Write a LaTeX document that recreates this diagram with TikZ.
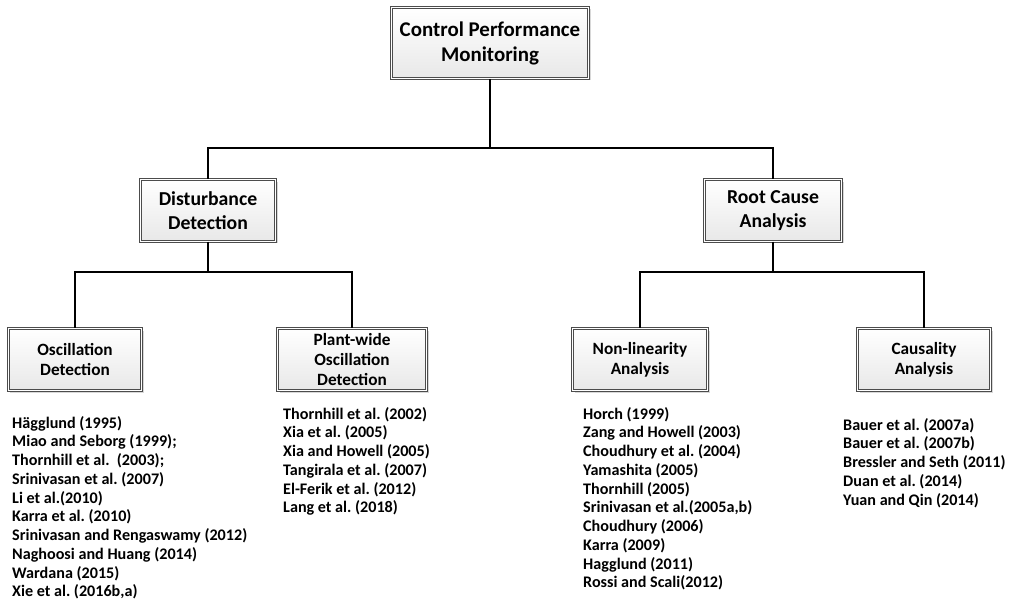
\documentclass[tikz,border=0pt]{standalone}
\usepackage{fontspec}
\setmainfont{Carlito}
\frenchspacing
\usetikzlibrary{shadows}
\tikzset{
	block/.style = {draw=black!70, line width=1bp, double=white, double distance=1bp,
		rectangle, top color=white, bottom color=black!9, align=center, inner sep=0pt,
		drop shadow={shadow xshift=2bp, shadow yshift=-2bp, fill=black!30},
		font=\bfseries\fontsize{17.3}{20}\selectfont},
	refs/.style  = {anchor=north west, align=left, inner sep=0pt,
		font=\bfseries\fontsize{16.2}{18.8}\selectfont},
	link/.style  = {line width=2.8bp}
}

\begin{document}
\begin{tikzpicture}[x=1bp, y=-1bp]
\useasboundingbox (0,0) rectangle (1011,608);
\draw
% Boxes of the tree
node at (490,43)[block, minimum width=197bp, minimum height=71bp,
	font=\bfseries\fontsize{21}{25}\selectfont] (cpm) {Control Performance\\Monitoring}
node at (208,210.5)[block, minimum width=135bp, minimum height=61bp,
	font=\bfseries\fontsize{19.8}{24}\selectfont] (dd) {Disturbance\\Detection}
node at (773,210.5)[block, minimum width=137bp, minimum height=61bp,
	font=\bfseries\fontsize{19.8}{24}\selectfont] (rca) {Root Cause\\Analysis}
node at (75,359.5)[block, minimum width=133bp, minimum height=62bp] (od) {Oscillation\\Detection}
node at (352,359.5)[block, minimum width=149bp, minimum height=62bp] (pwod) {Plant-wide\\Oscillation\\Detection}
node at (640,359.5)[block, minimum width=135bp, minimum height=62bp] (nla) {Non-linearity\\Analysis}
node at (924,359.5)[block, minimum width=133bp, minimum height=62bp] (ca) {Causality\\Analysis};

% Levels of the horizontal bars
\coordinate (bar1) at (0,148);
\coordinate (bar2) at (0,272);

\draw[link] (cpm.south) -- (cpm.south |- bar1) -| (dd.north);
\draw[link] (cpm.south |- bar1) -| (rca.north);
\draw[link] (dd.south) -- (dd.south |- bar2) -| (od.north);
\draw[link] (dd.south |- bar2) -| (pwod.north);
\draw[link] (rca.south) -- (rca.south |- bar2) -| (nla.north);
\draw[link] (rca.south |- bar2) -| (ca.north);

% Reference lists
\draw
node at (12,416)[refs] (odrefs) {H\"agglund (1995)\\Miao and Seborg (1999);\\Thornhill et al.\ \ (2003);\\Srinivasan et al. (2007)\\Li et al.(2010)\\Karra et al. (2010)\\Srinivasan and Rengaswamy (2012)\\Naghoosi and Huang (2014)\\Wardana (2015)\\Xie et al. (2016b,a)}
node at (283,407)[refs] (pwodrefs) {Thornhill et al. (2002)\\Xia et al. (2005)\\Xia and Howell (2005)\\Tangirala et al. (2007)\\El-Ferik et al. (2012)\\Lang et al. (2018)}
node at (583,407)[refs] (nlarefs) {Horch (1999)\\Zang and Howell (2003)\\Choudhury et al. (2004)\\Yamashita (2005)\\Thornhill (2005)\\Srinivasan et al.(2005a,b)\\Choudhury (2006)\\Karra (2009)\\Hagglund (2011)\\Rossi and Scali(2012)}
node at (843,418)[refs] (carefs) {Bauer et al. (2007a)\\Bauer et al. (2007b)\\Bressler and Seth (2011)\\Duan et al. (2014)\\Yuan and Qin (2014)};
\end{tikzpicture}
\end{document}
